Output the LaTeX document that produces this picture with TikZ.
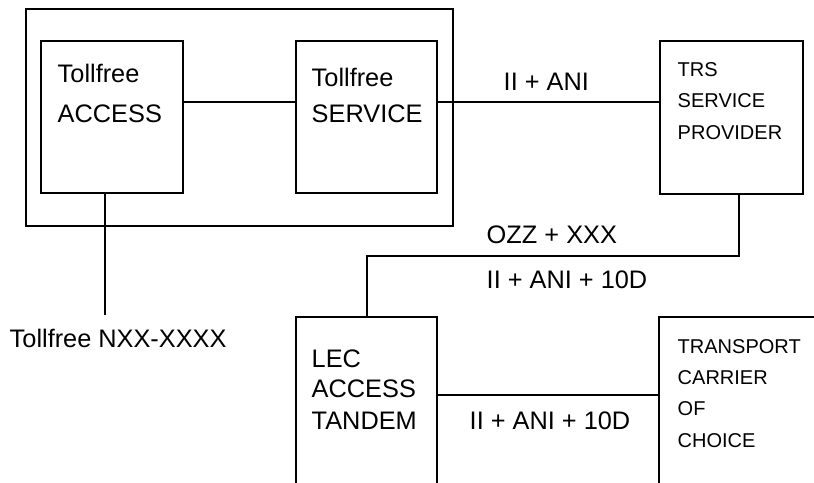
\documentclass[tikz,border=0pt]{standalone}
\usepackage{fontspec}
\setmainfont{Liberation Sans}
\usetikzlibrary{fit}
\begin{document}
\begin{tikzpicture}[x=0.75pt,y=-0.75pt,line width=1.1pt,
  box/.style={draw,rectangle,inner sep=0pt},
  big/.style={inner sep=0pt,anchor=base west,font=\fontsize{19}{23}\selectfont},
  small/.style={inner sep=0pt,anchor=base west,font=\fontsize{15}{18}\selectfont}]
\useasboundingbox (0,0) rectangle (814,482);
\clip (0,0) rectangle (814,482);
% boxes
\node[box,fit={(26,9) (453,226)}] (tf) {};
\node[box,fit={(41,41) (183,193)}] (acc) {};
\node[box,fit={(296,41) (437,193)}] (svc) {};
\node[box,fit={(660,41) (803,194)}] (trs) {};
\node[box,fit={(296,317) (437,500)}] (lec) {};
\node[box,fit={(659,317) (830,500)}] (tcc) {};
% box texts
\foreach \y/\t in {82/Tollfree,122/ACCESS}
  \node[big] (acc\y) at (57,\y) {\t};
\foreach \y/\t in {86/Tollfree,122/SERVICE}
  \node[big] (svc\y) at (311,\y) {\t};
\foreach \y/\t in {76/TRS,107/SERVICE,139/PROVIDER}
  \node[small] (trs\y) at (677,\y) {\t};
\foreach \y/\t in {367/LEC,397/ACCESS,429/TANDEM}
  \node[big] (lec\y) at (311,\y) {\t};
\foreach \y/\t in {353/TRANSPORT,384/CARRIER,415/OF,447/CHOICE}
  \node[small] (tcc\y) at (677,\y) {\t};
% links
\coordinate (nxxend) at (105,315);
\coordinate (bend) at (739,256);
\coordinate (lecin) at (367,317);
\draw (acc.east |- 0,102) -- (svc.west |- 0,102);
\draw (svc.east |- 0,102) -- (trs.west |- 0,102);
\draw (acc.south -| nxxend) -- (nxxend);
\draw (trs.south -| bend) -- (bend) -| (lecin);
\draw (lec.east |- 0,395) -- (tcc.west |- 0,395);
% link labels
\node[big] (nxx) at (9,347) {Tollfree NXX-XXXX};
\node[big] (ani) at (503,90) {II + ANI};
\node[big] (ozz) at (486,243) {OZZ + XXX};
\node[big] (ten1) at (486,288) {II + ANI + 10D};
\node[big] (ten2) at (469,429) {II + ANI + 10D};
\end{tikzpicture}
\end{document}
